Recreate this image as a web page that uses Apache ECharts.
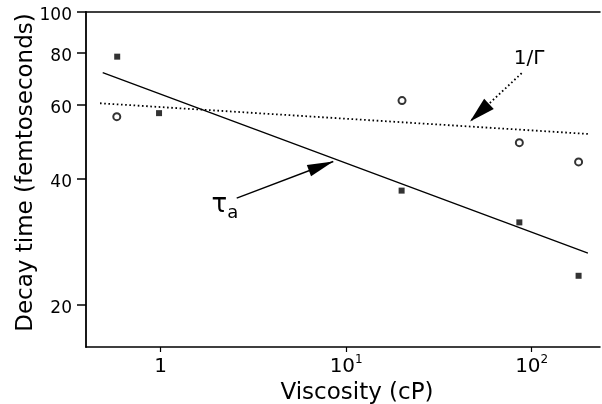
<!DOCTYPE html>
<html>
<head>
<meta charset="utf-8">
<script src="https://cdn.jsdelivr.net/npm/echarts@6/dist/echarts.min.js"></script>
<style>html,body{margin:0;padding:0;background:#fff}#c{width:602px;height:404px}</style>
</head>
<body>
<div id="c"></div>
<script>
// ---- data ----
var xTicks = [1, 10, 100];
var yTicks = [20, 40, 60, 80, 100];
var tauX = [0.583, 0.98, 19.9, 85.8, 179];
var tauY = [78.2, 57.3, 37.4, 31.4, 23.4];
var gamX = [0.58, 20.0, 85.8, 179];
var gamY = [56.2, 61.4, 48.7, 43.8];
var tauFitX = [0.487, 201];
var tauFitY = [71.6, 26.5];
var gamFitX = [0.471, 201];
var gamFitY = [60.5, 51.1];
var tauArrow = [[2.57, 35.9], [8.52, 43.9]];
var gamArrow = [[88.3, 71.4], [46.5, 54.7]];
var tauLabelAt = [2.22, 34.2];
var gamLabelAt = [96.7, 77.4];

function pairs(xs, ys) { return xs.map(function (x, i) { return [x, ys[i]]; }); }

var FONT = 'DejaVu Sans';
var chart = echarts.init(document.getElementById('c'), null, {renderer: 'canvas'});
chart.setOption({
  animation: false,
  backgroundColor: '#fff',
  grid: {left: 86, right: 2, top: 12, bottom: 57, containLabel: false, outerBoundsMode: 'none'},
  xAxis: [{
    type: 'log', logBase: 10, min: 0.3958, max: 233.5,
    name: 'Viscosity (cP)', nameLocation: 'middle', nameGap: 35, nameMoveOverlap: false,
    nameTextStyle: {fontFamily: FONT, fontSize: 23, color: '#000', padding: [0, 0, 0, 28]},
    axisLine: {lineStyle: {color: '#000', width: 1.5}},
    axisTick: {show: true, length: 5, inside: false, customValues: xTicks, lineStyle: {color: '#000', width: 1.2}},
    axisLabel: {
      customValues: xTicks, margin: 7, fontFamily: FONT, fontSize: 20, color: '#000', lineHeight: 26,
      formatter: function (v) {
        var e = Math.round(Math.log10(v));
        return e === 0 ? '1' : '10{s|' + e + '}';
      },
      rich: {s: {fontFamily: FONT, fontSize: 12, color: '#000', lineHeight: 10, verticalAlign: 'top'}}
    },
    splitLine: {show: false}, minorTick: {show: false}
  }, {
    type: 'log', logBase: 10, min: 0.3958, max: 233.5, position: 'top',
    axisLine: {show: true, lineStyle: {color: '#000', width: 1.5}},
    axisTick: {show: false}, axisLabel: {show: false}, splitLine: {show: false}
  }],
  yAxis: {
    type: 'log', logBase: 10, min: 15.81, max: 100,
    name: 'Decay time (femtoseconds)', nameLocation: 'middle', nameGap: 48, nameRotate: 90,
    nameMoveOverlap: false,
    nameTextStyle: {fontFamily: FONT, fontSize: 23, color: '#000', padding: [0, 0, 0, 14]},
    axisLine: {show: true, lineStyle: {color: '#000', width: 1.8}},
    axisTick: {show: true, length: 9, customValues: yTicks, lineStyle: {color: '#000', width: 1.5}},
    axisLabel: {customValues: yTicks, margin: 14, fontFamily: FONT, fontSize: 17, color: '#000',
      verticalAlign: 'top', lineHeight: 8,
      formatter: function (v) { return String(Math.round(v)); }},
    splitLine: {show: false}, minorTick: {show: false}
  },
  series: [{
    name: 'tau fit', type: 'line', data: pairs(tauFitX, tauFitY), symbol: 'none', silent: true,
    lineStyle: {color: '#000', width: 1.3},
    markLine: {
      silent: true, symbol: ['none', 'triangle'], symbolSize: 12,
      label: {show: false}, lineStyle: {color: '#000', width: 1.4, type: 'solid'},
      itemStyle: {color: '#000'}, emphasis: {disabled: true},
      data: [[{coord: tauArrow[0], symbol: 'none'},
              {coord: tauArrow[1], symbol: 'triangle', symbolSize: [12, 26], symbolOffset: [0, 13]}]]
    },
    markPoint: {
      silent: true, symbol: 'circle', symbolSize: 0,
      label: {show: true, position: 'inside', formatter: '{t|τ}{a|a}',
        rich: {t: {fontFamily: FONT, fontSize: 26, color: '#000', lineHeight: 30, verticalAlign: 'top'},
               a: {fontFamily: FONT, fontSize: 18, color: '#000', lineHeight: 18, verticalAlign: 'bottom'}}},
      data: [{coord: tauLabelAt}]
    }
  }, {
    name: 'gamma fit', type: 'line', data: pairs(gamFitX, gamFitY), symbol: 'none', silent: true,
    lineStyle: {color: '#000', width: 1.8, type: [1.6, 2.6]},
    markLine: {
      silent: true, symbol: ['none', 'triangle'], symbolSize: 12,
      label: {show: false}, lineStyle: {color: '#000', width: 1.8, type: [1.6, 2.6]},
      itemStyle: {color: '#000'}, emphasis: {disabled: true},
      data: [[{coord: gamArrow[0], symbol: 'none'},
              {coord: gamArrow[1], symbol: 'triangle', symbolSize: [14, 26], symbolOffset: [0, 13]}]]
    },
    markPoint: {
      silent: true, symbol: 'circle', symbolSize: 0,
      label: {show: true, position: 'inside', formatter: '1/Γ', fontFamily: FONT, fontSize: 20, color: '#000'},
      data: [{coord: gamLabelAt}]
    }
  }, {
    name: 'tau', type: 'scatter', data: pairs(tauX, tauY), symbol: 'rect', symbolSize: 6,
    itemStyle: {color: '#000'}, silent: true
  }, {
    name: 'gamma', type: 'scatter', data: pairs(gamX, gamY), symbol: 'emptyCircle', symbolSize: 7,
    itemStyle: {color: '#000', borderColor: '#000', borderWidth: 1.6}, silent: true
  }]
});
</script>
</body>
</html>
